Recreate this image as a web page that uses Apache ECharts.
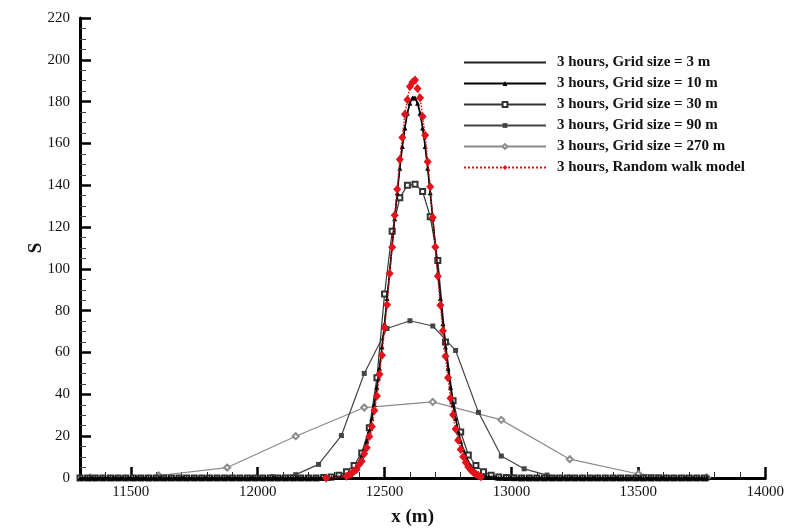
<!DOCTYPE html>
<html>
<head>
<meta charset="utf-8">
<title>S profiles</title>
<script src="https://cdn.jsdelivr.net/npm/echarts@6.0.0/dist/echarts.min.js"></script>
<style>
html, body { margin: 0; padding: 0; background: #fff; }
#chart { width: 787px; height: 532px; }
</style>
</head>
<body>
<div id="chart"></div>
<script>
// x ticks
var majorTicks = [11500, 12000, 12500, 13000, 13500, 14000];
var minorTicks = [11400, 11600, 11700, 11800, 11900, 12100, 12200, 12300, 12400, 12600, 12700, 12800, 12900,
	13100, 13200, 13300, 13400, 13600, 13700, 13800, 13900];

var seriesNames = ['3 hours, Grid size = 3 m', '3 hours, Grid size = 10 m', '3 hours, Grid size = 30 m',
	'3 hours, Grid size = 90 m', '3 hours, Grid size = 270 m', '3 hours, Random walk model'];

// grid 3 m, x from 12290 step 10
var grid3Y = [0.1, 0.1, 0.2, 0.4, 0.6, 0.9, 1.3, 1.9, 2.8, 4.0,
	5.6, 7.6, 10.2, 13.5, 17.6, 22.6, 28.6, 35.6, 43.8, 53.0,
	63.2, 74.4, 86.4, 98.9, 111.8, 124.6, 136.9, 148.6, 159.0, 167.9,
	174.9, 179.7, 182.3, 182.3, 179.7, 174.9, 167.9, 159.0, 148.6, 136.9,
	124.6, 111.8, 98.9, 86.4, 74.4, 63.2, 53.0, 43.8, 35.6, 28.6,
	22.6, 17.6, 13.5, 10.2, 7.6, 5.6, 4.0, 2.8, 1.9, 1.3,
	0.9, 0.6, 0.4, 0.2, 0.1, 0.1];

// grid 10 m, x from 11300 step 10
var grid10Left = [0, 0, 0, 0, 0, 0, 0, 0, 0, 0, 0, 0, 0, 0, 0, 0, 0, 0, 0, 0,
	0, 0, 0, 0, 0, 0, 0, 0, 0, 0, 0, 0, 0, 0, 0, 0, 0, 0, 0, 0,
	0, 0, 0, 0, 0, 0, 0, 0, 0, 0, 0, 0, 0, 0, 0, 0, 0, 0, 0, 0,
	0, 0, 0, 0, 0, 0, 0, 0, 0, 0, 0, 0, 0, 0, 0, 0, 0, 0, 0, 0,
	0, 0, 0, 0, 0, 0, 0, 0, 0, 0, 0, 0, 0, 0, 0, 0, 0, 0, 0];
var grid10Y = [0.1, 0.2, 0.3, 0.5, 0.7, 1.0, 1.5, 2.1, 3.0, 4.2,
	5.8, 7.8, 10.3, 13.6, 17.6, 22.5, 28.4, 35.3, 43.4, 52.5,
	62.7, 73.8, 85.8, 98.3, 111.2, 124.0, 136.4, 148.1, 158.5, 167.4,
	174.4, 179.2, 181.7, 181.7, 179.2, 174.4, 167.4, 158.5, 148.1, 136.4,
	124.0, 111.2, 98.3, 85.8, 73.8, 62.7, 52.5, 43.4, 35.3, 28.4,
	22.5, 17.6, 13.6, 10.3, 7.8, 5.8, 4.2, 3.0, 2.1, 1.5,
	1.0, 0.7, 0.5, 0.3, 0.2, 0.1];
var grid10Right = [0, 0, 0, 0, 0, 0, 0, 0, 0, 0, 0, 0, 0, 0, 0, 0, 0, 0, 0, 0,
	0, 0, 0, 0, 0, 0, 0, 0, 0, 0, 0, 0, 0, 0, 0, 0, 0, 0, 0, 0,
	0, 0, 0, 0, 0, 0, 0, 0, 0, 0, 0, 0, 0, 0, 0, 0, 0, 0, 0, 0,
	0, 0, 0, 0, 0, 0, 0, 0, 0, 0, 0, 0, 0, 0, 0, 0, 0, 0, 0, 0,
	0, 0, 0];

// grid 30 m, x from 11300 step 30
var grid30Left = [0, 0, 0, 0, 0, 0, 0, 0, 0, 0, 0, 0, 0, 0, 0, 0,
	0, 0, 0, 0, 0, 0, 0, 0, 0, 0, 0, 0, 0, 0, 0, 0];
var grid30Y = [0.2, 0.5, 1.3, 3.0, 6.0, 12.0, 24.0, 48.0, 88.0, 118.0,
	134.0, 140.0, 140.5, 137.0, 125.0, 104.0, 65.0, 37.0, 22.0, 11.0,
	6.0, 3.0, 1.3, 0.5, 0.2, 0.1];
var grid30Right = [0, 0, 0, 0, 0, 0, 0, 0, 0, 0, 0, 0, 0, 0, 0, 0, 0, 0, 0, 0, 0, 0, 0, 0, 0];

// grid 90 m, x from 11340 step 90
var grid90Y = [0, 0, 0, 0, 0, 0, 0.1, 0.2, 0.6, 1.6,
	6.5, 20.3, 50.0, 71.5, 75.2, 72.7, 61.0, 31.4, 10.5, 4.4,
	1.4, 0.4, 0.1, 0, 0, 0, 0, 0];

// grid 270 m, x from 11340 step 270
var grid270Y = [0.2, 1.2, 5.0, 20.0, 33.7, 36.4, 27.8, 9.0, 1.9, 0.3];

// random walk, first particle bin at 12270, then x from 12350 step 10
var walkFirst = [12270, 0];
var walkY = [0.8, 1.6, 2.0, 3.3, 4.1, 6.4, 8.0, 11.6, 14.5, 19.9,
	24.6, 32.3, 39.2, 49.6, 58.7, 71.8, 82.9, 97.8, 110.3, 125.7,
	138.1, 152.3, 162.8, 174.0, 180.9, 187.2, 189.3, 190.4, 186.3, 181.8,
	172.9, 163.9, 151.2, 139.3, 124.6, 110.5, 96.5, 82.6, 70.4, 58.2,
	47.9, 38.1, 30.2, 23.4, 18.1, 13.6, 10.2, 7.4, 5.3, 3.8,
	2.6, 1.8, 1.1, 0.6];

var FONT = 'Liberation Serif';

function pairs(x0, dx, ys) {
	var out = [];
	for (var i = 0; i < ys.length; i++) {
		out.push([x0 + i * dx, ys[i]]);
	}
	return out;
}

var chart = echarts.init(document.getElementById('chart'));

// legend entries, the 3 m line has no marker
var legendData = [];
for (var i = 0; i < seriesNames.length; i++) {
	if (i == 0) {
		legendData.push({ name : seriesNames[i], itemStyle : { opacity : 0 } });
	} else {
		legendData.push({ name : seriesNames[i] });
	}
}

var option = {
	animation : false,
	backgroundColor : '#fff',
	grid : {
		left : 80,
		right : 21,
		top : 18,
		bottom : 48
	},
	legend : {
		orient : 'vertical',
		left : 463,
		top : 55,
		padding : 0,
		itemWidth : 82,
		itemHeight : 6,
		itemGap : 6,
		selectedMode : false,
		data : legendData,
		textStyle : {
			fontFamily : FONT,
			fontWeight : 'bold',
			fontSize : 15,
			lineHeight : 14,
			color : '#111',
			padding : [0, 0, 0, 6]
		}
	},
	xAxis : [ {
		type : 'value',
		min : 11300,
		max : 14000,
		name : 'x (m)',
		nameLocation : 'middle',
		nameGap : 30,
		nameTextStyle : {
			fontFamily : FONT,
			fontWeight : 'bold',
			fontSize : 19,
			color : '#111',
			padding : [0, 20, 0, 0]
		},
		axisLine : {
			lineStyle : { color : '#000', width : 3 }
		},
		axisTick : {
			inside : true,
			length : 11,
			customValues : majorTicks,
			lineStyle : { color : '#000', width : 2.5 }
		},
		axisLabel : {
			customValues : majorTicks,
			margin : 7,
			fontFamily : FONT,
			fontSize : 15,
			color : '#111',
			formatter : function(v) {
				return String(v);
			}
		},
		splitLine : { show : false }
	}, {
		type : 'value',
		min : 11300,
		max : 14000,
		position : 'bottom',
		axisLine : { show : false },
		axisLabel : { show : false },
		axisTick : {
			inside : true,
			length : 6,
			customValues : minorTicks,
			lineStyle : { color : '#222', width : 1 }
		},
		splitLine : { show : false }
	} ],
	yAxis : {
		type : 'value',
		min : 0,
		max : 220,
		interval : 20,
		name : 'S',
		nameLocation : 'middle',
		nameGap : 34,
		nameMoveOverlap : false,
		nameTextStyle : {
			fontFamily : FONT,
			fontWeight : 'bold',
			fontSize : 19,
			color : '#111'
		},
		axisLine : {
			show : true,
			lineStyle : { color : '#000', width : 3 }
		},
		axisTick : {
			inside : true,
			length : 11,
			lineStyle : { color : '#000', width : 2.5 }
		},
		minorTick : {
			show : true,
			splitNumber : 4,
			length : 6,
			lineStyle : { color : '#444', width : 1 }
		},
		axisLabel : {
			margin : 10,
			fontFamily : FONT,
			fontSize : 15,
			color : '#111'
		},
		splitLine : { show : false }
	},
	series : [ {
		name : seriesNames[0],
		type : 'line',
		z : 4,
		symbol : 'none',
		data : pairs(12290, 10, grid3Y),
		lineStyle : { color : '#222', width : 1 },
		itemStyle : { color : '#222' }
	}, {
		name : seriesNames[1],
		type : 'line',
		z : 5,
		symbol : 'triangle',
		symbolSize : 5,
		data : pairs(11300, 10, grid10Left.concat(grid10Y, grid10Right)),
		lineStyle : { color : '#000', width : 1.6 },
		itemStyle : { color : '#000' }
	}, {
		name : seriesNames[2],
		type : 'line',
		z : 3,
		symbol : 'emptyRect',
		symbolSize : 5,
		data : pairs(11300, 30, grid30Left.concat(grid30Y, grid30Right)),
		lineStyle : { color : '#333', width : 1.2 },
		itemStyle : { color : '#333', borderWidth : 1 }
	}, {
		name : seriesNames[3],
		type : 'line',
		z : 2,
		symbol : 'rect',
		symbolSize : 5,
		data : pairs(11340, 90, grid90Y),
		lineStyle : { color : '#444', width : 1.2 },
		itemStyle : { color : '#444' }
	}, {
		name : seriesNames[4],
		type : 'line',
		z : 1,
		symbol : 'emptyDiamond',
		symbolSize : 6,
		data : pairs(11340, 270, grid270Y),
		lineStyle : { color : '#8a8a8a', width : 1.2 },
		itemStyle : { color : '#8a8a8a', borderWidth : 1 }
	}, {
		name : seriesNames[5],
		type : 'line',
		z : 6,
		symbol : 'diamond',
		symbolSize : [8, 9],
		data : [walkFirst].concat(pairs(12350, 10, walkY)),
		lineStyle : { color : '#e3121b', width : 1.5, type : 'dotted' },
		itemStyle : { color : '#e3121b' }
	} ]
};

chart.setOption(option);
</script>
</body>
</html>
